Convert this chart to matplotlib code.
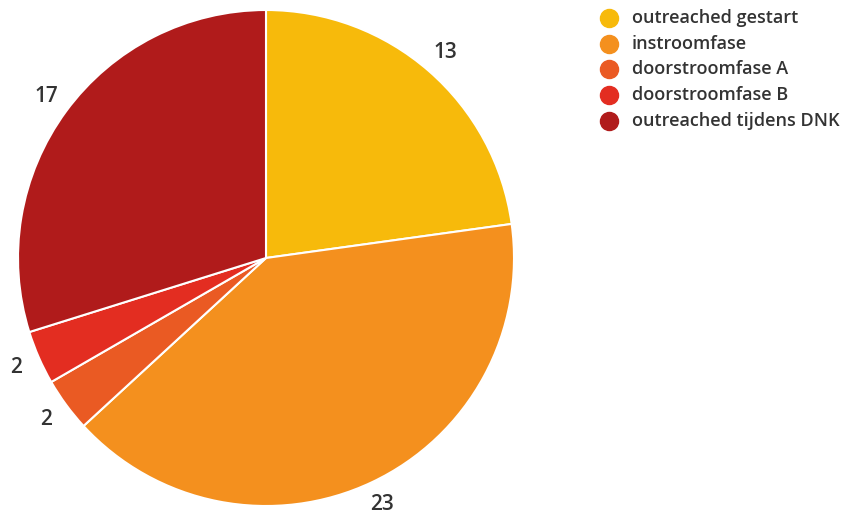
import matplotlib
matplotlib.use("Agg")
import matplotlib.pyplot as plt
from matplotlib.lines import Line2D

# ── Data ──────────────────────────────────────────────────────────────────────
labels = ["outreached gestart", "instroomfase", "doorstroomfase A",
          "doorstroomfase B", "outreached tijdens DNK"]
values = [13, 23, 2, 2, 17]
colors = ["#F7BA0B", "#F4901E", "#EA5A23", "#E32D21", "#B01B1B"]

TEXT_C = "#333333"
plt.rcParams["font.family"] = ["Open Sans", "DejaVu Sans"]

W, H = 861, 516
fig = plt.figure(figsize=(W / 100, H / 100), dpi=100)
fig.patch.set_facecolor("white")

# pie axes: centre (266, 258) px, radius 248 px
cx, cy, r = 266, 258, 248
ax = fig.add_axes([(cx - r) / W, (H - cy - r) / H, 2 * r / W, 2 * r / H])
wedges, texts = ax.pie(
    values, colors=colors, labels=[str(v) for v in values],
    startangle=90, counterclock=False, labeldistance=1.1,
    wedgeprops=dict(edgecolor="white", linewidth=1.5),
    textprops=dict(color=TEXT_C, fontsize=15, fontweight="semibold"),
)
for t in texts:
    t.set_ha("center")
    t.set_va("center")
ax.set_xlim(-1, 1)
ax.set_ylim(-1, 1)
ax.set_aspect("equal")

# ── Legend ────────────────────────────────────────────────────────────────────
x_mark, x_text, y0, dy = 609, 632, 18, 25.7
for i, (lab, col) in enumerate(zip(labels, colors)):
    y = 1 - (y0 + i * dy) / H
    fig.add_artist(Line2D([x_mark / W], [y], marker="o", markersize=13,
                          color=col, linestyle="none",
                          transform=fig.transFigure))
    fig.text(x_text / W, y, lab, color=TEXT_C, fontsize=13,
             fontweight="semibold", va="center", ha="left")

fig.savefig("out.png", dpi=100, facecolor="white")
